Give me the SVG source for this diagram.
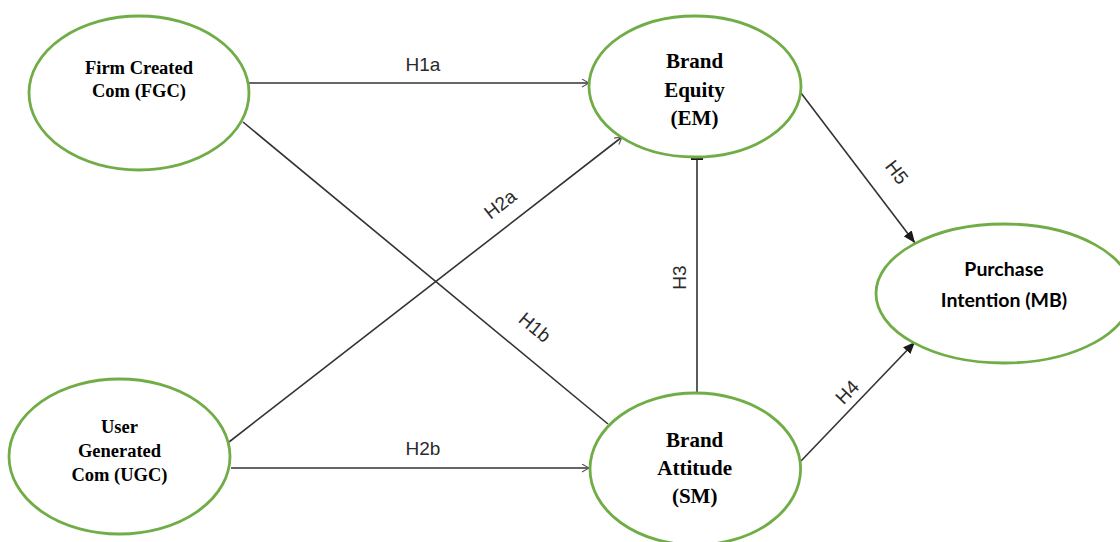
<svg xmlns="http://www.w3.org/2000/svg" width="1120" height="542" viewBox="0 0 1120 542">
  <style>
    .node { fill: #ffffff; stroke: #70AD47; stroke-width: 2.8; }
    .conn { stroke: #333333; stroke-width: 1.6; fill: none; }
    .serif { font-family: "Liberation Serif", "Times New Roman", serif; font-weight: bold; fill: #000000; text-anchor: middle; }
    .sans { font-family: Lato, "Liberation Sans", Arial, sans-serif; font-weight: bold; fill: #000000; text-anchor: middle; }
    .lbl { font-family: "Liberation Sans", Arial, sans-serif; font-size: 19px; fill: #2b2b2b; text-anchor: middle; }
  </style>
  <defs>
    <marker id="arrowFill" markerUnits="userSpaceOnUse" markerWidth="12" markerHeight="10" refX="12" refY="5" orient="auto">
      <path d="M0,0 L12,5 L0,10 z" fill="#1a1a1a"/>
    </marker>
    <marker id="arrowOpen" markerUnits="userSpaceOnUse" markerWidth="9" markerHeight="9" refX="8" refY="4.5" orient="auto">
      <path d="M1,0.5 L8,4.5 L1,8.5" fill="none" stroke="#555555" stroke-width="1.1"/>
    </marker>
    <marker id="arrowBar" markerUnits="userSpaceOnUse" markerWidth="4" markerHeight="12" refX="0" refY="6" orient="auto">
      <rect x="0" y="0" width="3.5" height="12" fill="#1a1a1a"/>
    </marker>
  </defs>
  <rect width="1120" height="542" fill="#ffffff"/>

  <g id="connectors">
    <path id="c-h1a" class="conn" d="M249,83 H589" marker-end="url(#arrowOpen)"/>
    <path id="c-h1b" class="conn" d="M243,122 L608,424"/>
    <path id="c-h2a" class="conn" d="M229,442 L622,137" marker-end="url(#arrowOpen)"/>
    <path id="c-h2b" class="conn" d="M231,468 H589" marker-end="url(#arrowOpen)"/>
    <path id="c-h3" class="conn" d="M697,392 V160" marker-end="url(#arrowBar)"/>
    <path id="c-h4" class="conn" d="M801,461 L915,342" marker-end="url(#arrowFill)"/>
    <path id="c-h5" class="conn" d="M801,93 L915,243" marker-end="url(#arrowFill)"/>
    <text class="lbl" x="423" y="70.5">H1a</text>
    <text class="lbl" x="423" y="455">H2b</text>
    <text class="lbl" transform="translate(500,204) rotate(-37.8)" y="6.8">H2a</text>
    <text class="lbl" transform="translate(535,327) rotate(39.6)" y="6.8">H1b</text>
    <text class="lbl" transform="translate(679,277.5) rotate(-90)" y="6.8">H3</text>
    <text class="lbl" transform="translate(847,392) rotate(-46.2)" y="6.8">H4</text>
    <text class="lbl" transform="translate(897,172) rotate(52.2)" y="6.8">H5</text>
  </g>

  <g id="node-fgc">
    <ellipse class="node" cx="139" cy="93" rx="110" ry="77"/>
    <text class="serif" font-size="18.5" x="139" y="74">Firm Created</text>
    <text class="serif" font-size="18.5" x="139" y="96.7">Com (FGC)</text>
  </g>

  <g id="node-ugc">
    <ellipse class="node" cx="119.5" cy="456.5" rx="110.5" ry="77.5"/>
    <text class="serif" font-size="18.5" x="119.5" y="432.7">User</text>
    <text class="serif" font-size="18.5" x="119.5" y="456.7">Generated</text>
    <text class="serif" font-size="18.5" x="119.5" y="480.7">Com (UGC)</text>
  </g>

  <g id="node-em">
    <ellipse class="node" cx="695" cy="86.5" rx="106" ry="70.5"/>
    <text class="serif" font-size="21" x="694.5" y="68.3">Brand</text>
    <text class="serif" font-size="21" x="694.5" y="97">Equity</text>
    <text class="serif" font-size="21" x="694.5" y="125">(EM)</text>
  </g>

  <g id="node-sm">
    <ellipse class="node" cx="695.3" cy="469" rx="105.3" ry="76"/>
    <text class="serif" font-size="21" x="694.7" y="446.7">Brand</text>
    <text class="serif" font-size="21" x="694.7" y="475">Attitude</text>
    <text class="serif" font-size="21" x="694.7" y="503.3">(SM)</text>
  </g>

  <g id="node-mb">
    <ellipse class="node" cx="1004" cy="293.5" rx="128" ry="69.5"/>
    <text class="sans" font-size="19.5" x="1004" y="276">Purchase</text>
    <text class="sans" font-size="19.5" x="1004" y="307.3">Intention (MB)</text>
  </g>
</svg>
